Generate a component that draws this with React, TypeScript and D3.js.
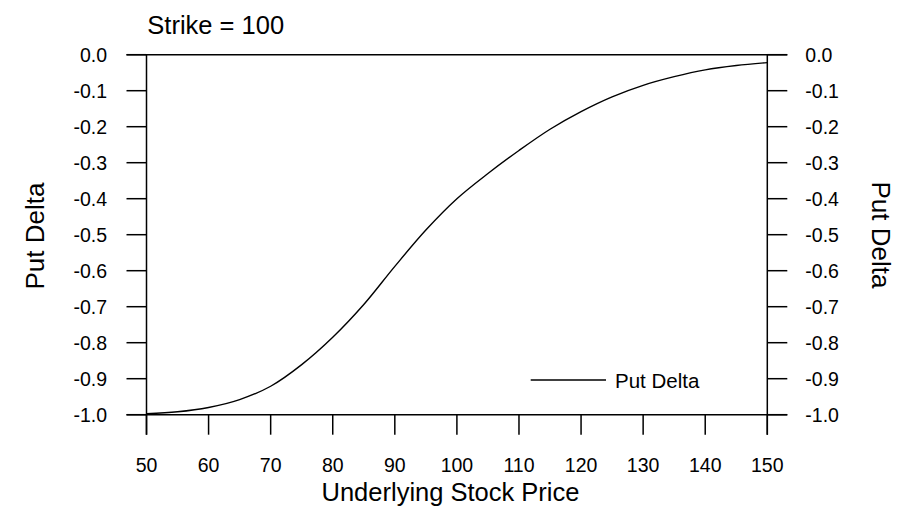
import React from "react";
import * as d3 from "d3";

// Put delta versus underlying price, strike 100
const stockPrices = [50, 55, 60, 65, 70, 75, 80, 85, 90, 95, 100, 105, 110, 115, 120, 125, 130, 135, 140, 145, 150];
const putDelta = [-0.997, -0.992, -0.98, -0.958, -0.921, -0.861, -0.785, -0.694, -0.588, -0.487, -0.4, -0.33, -0.266, -0.207, -0.158, -0.117, -0.085, -0.061, -0.042, -0.03, -0.022];
const xTicks = [50, 60, 70, 80, 90, 100, 110, 120, 130, 140, 150];
const yTicks = [0, -0.1, -0.2, -0.3, -0.4, -0.5, -0.6, -0.7, -0.8, -0.9, -1.0];
const titleText = "Strike = 100";
const xTitle = "Underlying Stock Price";
const yTitle = "Put Delta";
const legendLabel = "Put Delta";

const W = 902;
const H = 525;
const FONT = "'Liberation Sans', Arial, Helvetica, sans-serif";

const x = d3.scaleLinear().domain([50, 150]).range([146.5, 767.3]);
const y = d3.scaleLinear().domain([-1, 0]).range([414.7, 54.7]);
const TICK = 20;

// plain hyphen-minus labels, one decimal
const fmtY = (v: number) => {
  const s = Math.abs(v).toFixed(1);
  return v < 0 ? "-" + s : s;
};

function T({ x, y, size, anchor = "start", children }: any) {
  return (
    <text x={x} y={y} fontSize={size} fontFamily={FONT} textAnchor={anchor} fill="#000">
      {children}
    </text>
  );
}

export default function App() {
  const pts = stockPrices.map((s, i) => [s, putDelta[i]] as [number, number]);
  const line = d3
    .line<[number, number]>()
    .x((d) => x(d[0]))
    .y((d) => y(d[1]))
    .curve(d3.curveCatmullRom.alpha(0.5));

  const x0 = x(50);
  const x1 = x(150);
  const yTop = y(0);
  const yBot = y(-1);

  return (
    <svg
      width={W}
      height={H}
      style={{ position: "absolute", left: 0, top: 0, background: "#fff" }}
    >
      <rect width={W} height={H} fill="#fff" />
      <g stroke="#000" strokeWidth={1.5} fill="none">
        {/* frame: horizontal lines at 0 and -1 run across both tick sets */}
        <line x1={x0 - TICK} x2={x1 + TICK} y1={yTop} y2={yTop} />
        <line x1={x0 - TICK} x2={x1 + TICK} y1={yBot} y2={yBot} />
        <line x1={x0} x2={x0} y1={yTop} y2={yBot + TICK} />
        <line x1={x1} x2={x1} y1={yTop} y2={yBot + TICK} />
        {yTicks.map((t) => (
          <g key={"yt" + t}>
            <line x1={x0 - TICK} x2={x0} y1={y(t)} y2={y(t)} />
            <line x1={x1} x2={x1 + TICK} y1={y(t)} y2={y(t)} />
          </g>
        ))}
        {xTicks.map((t) => (
          <line key={"xt" + t} x1={x(t)} x2={x(t)} y1={yBot} y2={yBot + TICK} />
        ))}
      </g>

      <path d={line(pts) || ""} fill="none" stroke="#000" strokeWidth={1.4} />

      {yTicks.map((t) => (
        <g key={"yl" + t}>
          <T x={107} y={y(t) + 6.8} size={19.5} anchor="end">
            {fmtY(t)}
          </T>
          <T x={805.3} y={y(t) + 6.8} size={19.5} anchor="start">
            {fmtY(t)}
          </T>
        </g>
      ))}
      {xTicks.map((t) => (
        <T key={"xl" + t} x={x(t)} y={472} size={19.5} anchor="middle">
          {t}
        </T>
      ))}

      <T x={147.3} y={34} size={25.5}>{titleText}</T>
      <T x={450.5} y={501} size={25.5} anchor="middle">{xTitle}</T>

      <text
        transform={`translate(44,236) rotate(-90)`}
        fontSize={26}
        fontFamily={FONT}
        textAnchor="middle"
      >
        {yTitle}
      </text>
      <text
        transform={`translate(872,235) rotate(90)`}
        fontSize={26}
        fontFamily={FONT}
        textAnchor="middle"
      >
        {yTitle}
      </text>

      {/* legend */}
      <line x1={530.7} x2={606} y1={380} y2={380} stroke="#000" strokeWidth={1.4} />
      <T x={615} y={387.5} size={20.5}>{legendLabel}</T>
    </svg>
  );
}
